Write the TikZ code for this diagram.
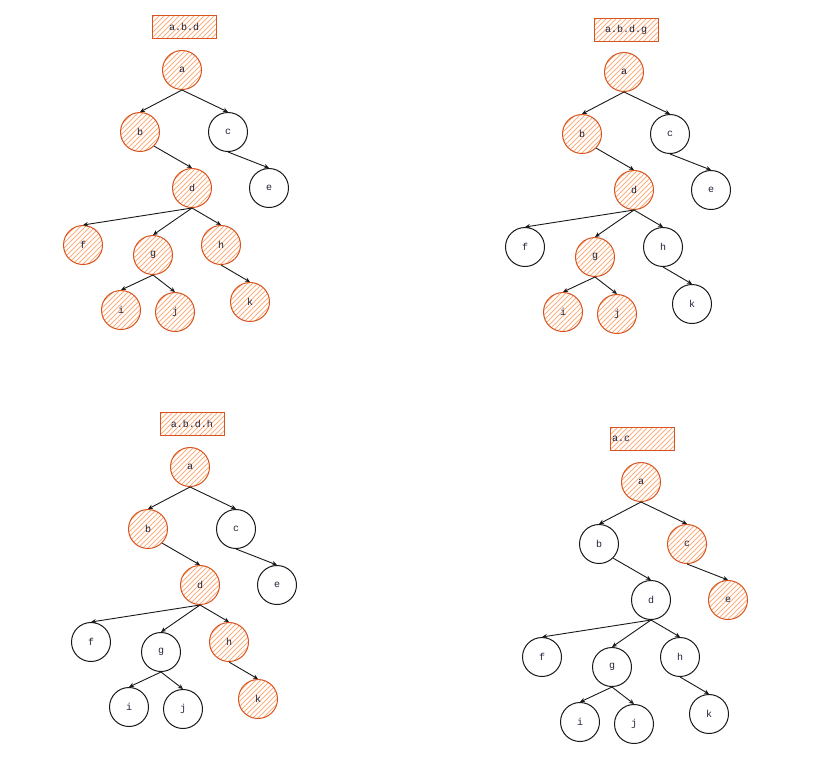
\documentclass[tikz,border=0pt]{standalone}
\usepackage{fontspec}
\setmonofont{Liberation Mono}
\usetikzlibrary{positioning,arrows.meta}
\definecolor{hotline}{HTML}{D9531E}
\definecolor{hothatch}{HTML}{FBB080}
\definecolor{inkcol}{HTML}{1E2238}
\tikzstyle{hatched}=[path picture={%
  \foreach \t in {-76,-71,...,76}
   \draw[hothatch, line width=0.9pt] ([shift={(\t pt-40pt,-40pt)}]path picture bounding box.center) -- ++(80pt,80pt);}]
\tikzstyle{cnode}=[circle, draw=black!90, line width=1pt, minimum size=39pt, inner sep=0pt, font=\ttfamily\fontsize{10}{12}\selectfont, text=inkcol]
\tikzstyle{hnode}=[cnode, draw=hotline, hatched]
\tikzstyle{lbox}=[rectangle, draw=hotline, line width=1pt, hatched, minimum width=64pt, minimum height=23pt, inner sep=2pt, font=\ttfamily\fontsize{10}{12}\selectfont, text=inkcol]
\tikzstyle{tline}=[-{Stealth[length=5pt,width=4.5pt]}, line width=0.9pt, black!90]
% node places of one tree, measured from its root
\newcommand{\treecoords}[2]{%
 \begin{scope}[shift={#2}]
 \foreach \n/\dx/\dy in {a/0/0, b/-42/62, c/46/62, d/10/118, e/87/118, f/-99/175, g/-29/185, h/39/175, i/-61/240, j/-7/242, k/68/232}
  \coordinate (#1-\n-pos) at (\dx,\dy);
 \end{scope}}
\newcommand{\treeedges}[1]{%
 \foreach \p/\c in {a/b,a/c,c/e,d/f,d/g,d/h,g/i,g/j,h/k}
  \draw[tline] (#1\p.south) -- (#1\c.north);
 \draw[tline] (#1b.south east) -- (#1d.north);}
\begin{document}
\begin{tikzpicture}[x=1pt,y=-1pt]
\useasboundingbox (0,0) rectangle (818,772);
% tree 1: a.b.d
\treecoords{T1}{(182,70)}
\node (T1L) [lbox] at (184,27) {a.b.d};
\foreach \n in {a,b,d,f,g,h,i,j,k} \node (T1\n) [hnode] at (T1-\n-pos) {\n};
\foreach \n in {c,e} \node (T1\n) [cnode] at (T1-\n-pos) {\n};
\treeedges{T1}
% tree 2: a.b.d.g
\treecoords{T2}{(624,72)}
\node (T2L) [lbox] at (626,30) {a.b.d.g};
\foreach \n in {a,b,d,g,i,j} \node (T2\n) [hnode] at (T2-\n-pos) {\n};
\foreach \n in {c,e,f,h,k} \node (T2\n) [cnode] at (T2-\n-pos) {\n};
\treeedges{T2}
% tree 3: a.b.d.h
\treecoords{T3}{(190,467)}
\node (T3L) [lbox] at (192,424) {a.b.d.h};
\foreach \n in {a,b,d,h,k} \node (T3\n) [hnode] at (T3-\n-pos) {\n};
\foreach \n in {c,e,f,g,i,j} \node (T3\n) [cnode] at (T3-\n-pos) {\n};
\treeedges{T3}
% tree 4: a.c
\treecoords{T4}{(641,482)}
\node (T4L) [lbox, text width=60pt, align=left, inner xsep=1pt] at (642,439) {a.c};
\foreach \n in {a,c,e} \node (T4\n) [hnode] at (T4-\n-pos) {\n};
\foreach \n in {b,d,f,g,h,i,j,k} \node (T4\n) [cnode] at (T4-\n-pos) {\n};
\treeedges{T4}
\end{tikzpicture}
\end{document}
